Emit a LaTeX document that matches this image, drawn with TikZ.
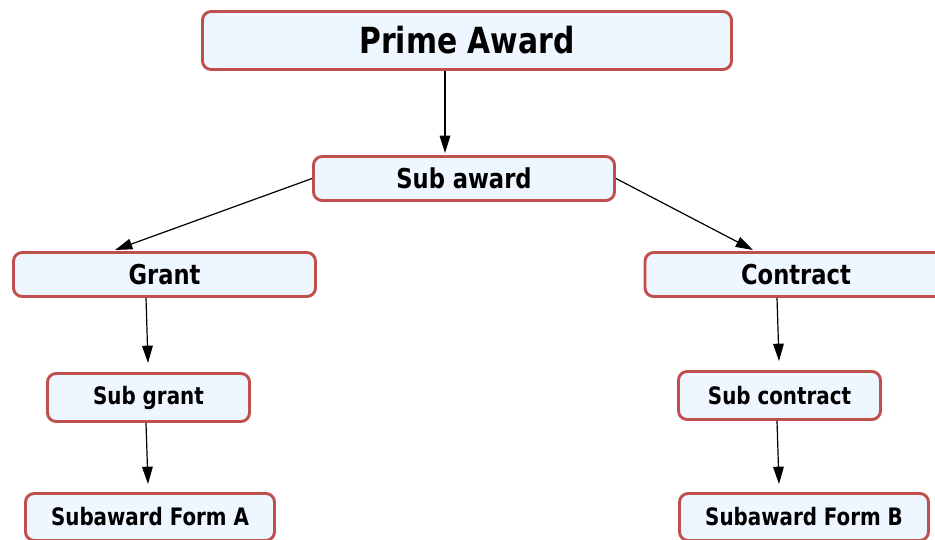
\documentclass[tikz,border=0pt]{standalone}
\usepackage{fontspec}
\setmainfont{DejaVu Sans Condensed}[FakeStretch=0.92]
\usetikzlibrary{arrows.meta}
\definecolor{bordr}{RGB}{192,80,77}
\definecolor{boxfill}{RGB}{238,246,255}
\tikzset{
  box/.style={draw=bordr, fill=boxfill, line width=2.2pt, rounded corners=6.5pt,
    inner sep=0pt, font=\bfseries},
  big/.style={font=\fontsize{27}{30}\selectfont\bfseries},
  mid/.style={font=\fontsize{20.5}{24}\selectfont\bfseries},
  small/.style={font=\fontsize{18}{22}\selectfont\bfseries},
  arr/.style={-{Triangle[length=13pt,width=8pt]}, line width=0.9pt, black}
}
\begin{document}
\begin{tikzpicture}[x=0.75pt,y=-0.75pt]
\useasboundingbox (0,0) rectangle (935,539);
\node[box,big,minimum width=529*0.75pt,minimum height=58*0.75pt] (prime) at (467,40.5) {Prime Award};
\node[box,mid,minimum width=301*0.75pt,minimum height=44*0.75pt] (sub) at (464,178.5) {Sub award};
\node[box,mid,minimum width=302*0.75pt,minimum height=44*0.75pt] (grant) at (164.5,274.5) {Grant};
\node[box,mid,minimum width=302*0.75pt,minimum height=44*0.75pt] (contract) at (796,274.5) {Contract};
\node[box,small,minimum width=202*0.75pt,minimum height=48*0.75pt] (subgrant) at (148.5,397.5) {Sub grant};
\node[box,small,minimum width=202*0.75pt,minimum height=48*0.75pt] (subcontract) at (779.5,395.5) {Sub contract};
\node[box,small,minimum width=249*0.75pt,minimum height=47*0.75pt] (formA) at (150,517) {Subaward Form A};
\node[box,small,minimum width=249*0.75pt,minimum height=47*0.75pt] (formB) at (804,517) {Subaward Form B};
\draw[arr] (445,0 |- prime.south) -- (445,153);
\draw[arr] (sub.west) -- (115,250);
\draw[arr] (sub.east) -- (753,250);
\draw[arr] (146,0 |- grant.south) -- (148,363);
\draw[arr] (146,0 |- subgrant.south) -- (148,484);
\draw[arr] (777,0 |- contract.south) -- (779,361);
\draw[arr] (777,0 |- subcontract.south) -- (779,484);
\end{tikzpicture}
\end{document}
